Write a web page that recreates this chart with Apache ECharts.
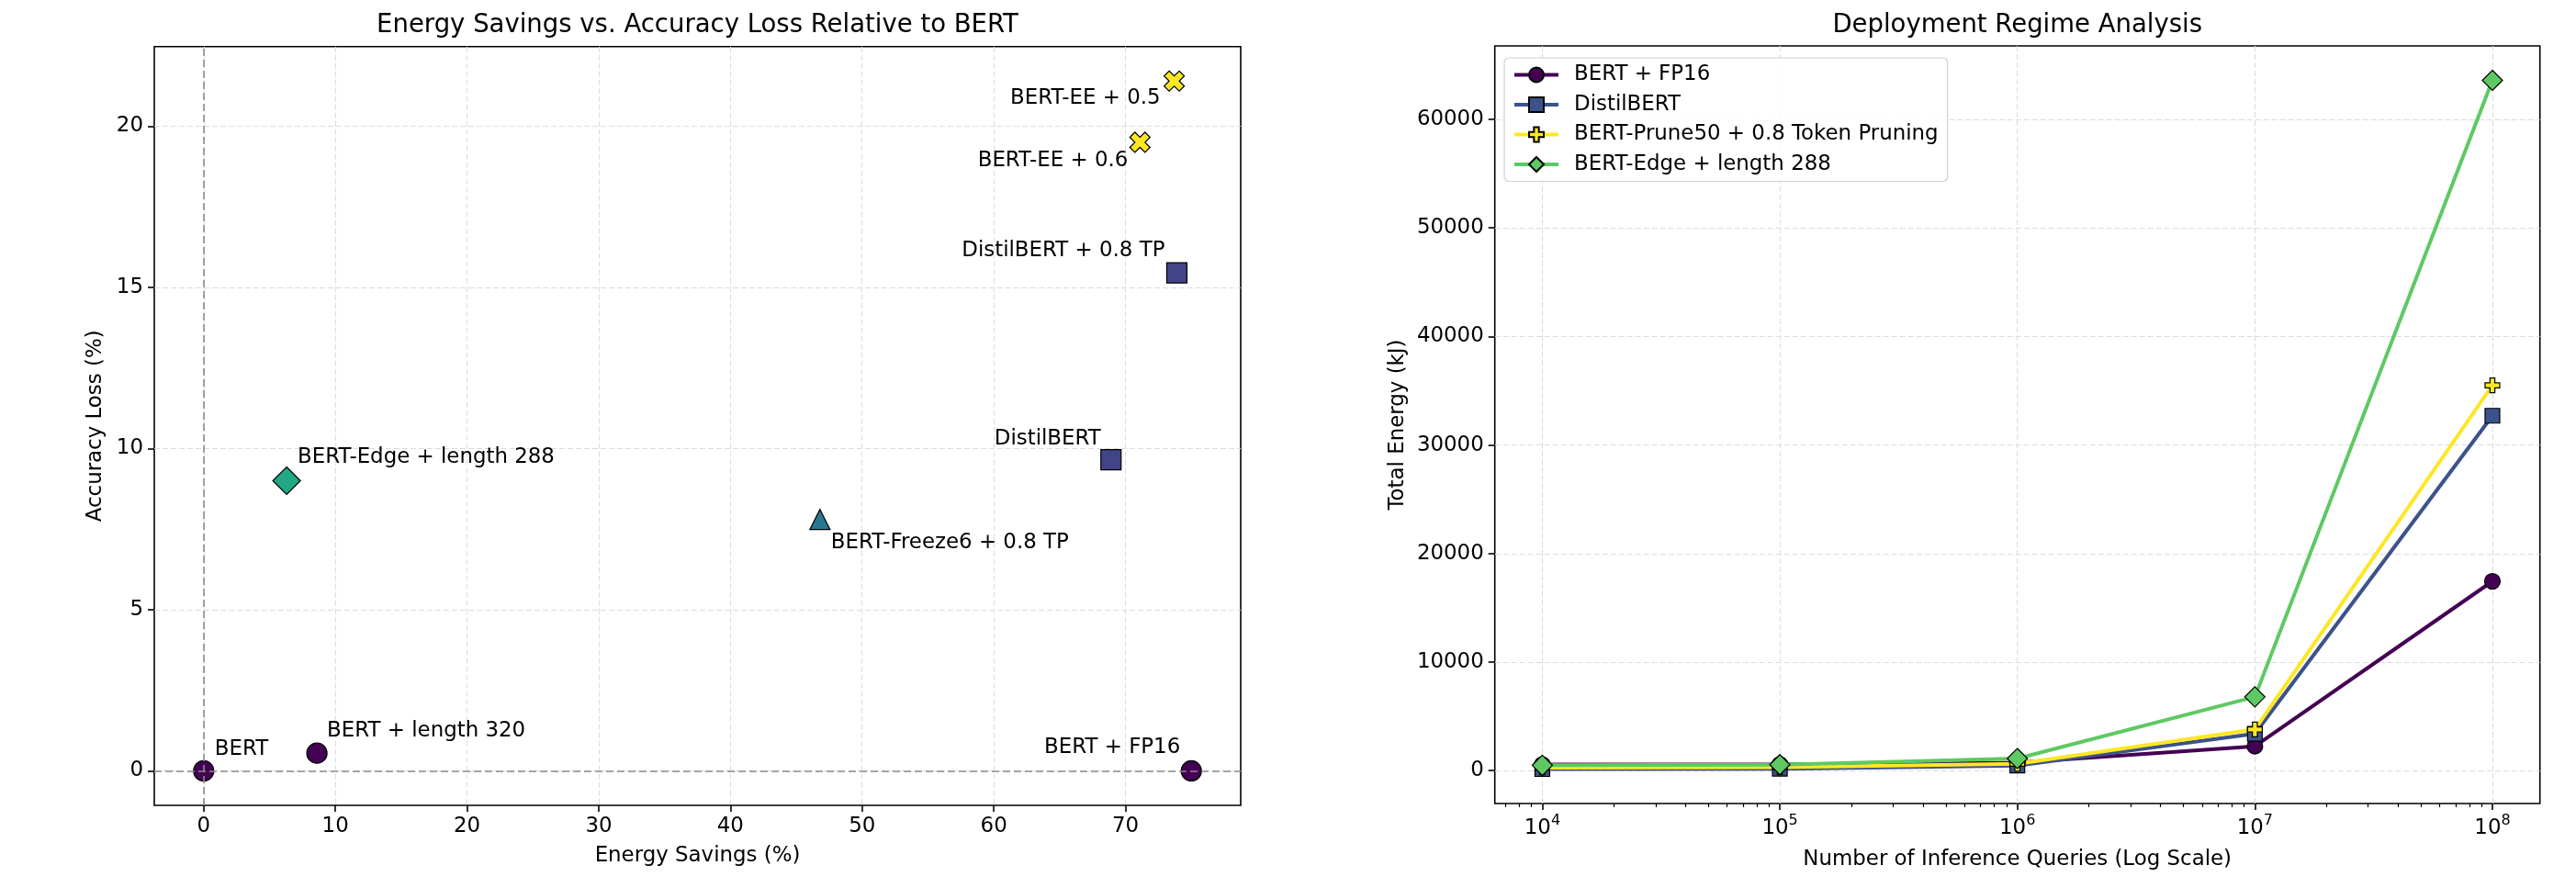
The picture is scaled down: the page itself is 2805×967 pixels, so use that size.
<!DOCTYPE html>
<html><head><meta charset="utf-8">
<script src="https://cdn.jsdelivr.net/npm/echarts@6/dist/echarts.min.js"></script>
<style>html,body{margin:0;padding:0;background:#fff}#c{width:2805px;height:967px}</style>
</head><body><div id="c"></div>
<script>
// ---------- Left panel data ----------
const methods = ['BERT', 'BERT + length 320', 'BERT + FP16', 'BERT-Edge + length 288',
  'BERT-Freeze6 + 0.8 TP', 'DistilBERT', 'DistilBERT + 0.8 TP', 'BERT-EE + 0.6', 'BERT-EE + 0.5'];
const energySavings = [0, 8.6, 75.0, 6.3, 46.8, 68.9, 73.9, 71.1, 73.7];
const accuracyLoss = [0, 0.55, 0, 9.0, 7.8, 9.65, 15.45, 19.5, 21.4];
const methodFamily = ['base', 'base', 'base', 'edge', 'freeze', 'distil', 'distil', 'ee', 'ee'];
const savingsTicks = [0, 10, 20, 30, 40, 50, 60, 70];
const lossTicks = [0, 5, 10, 15, 20];

// ---------- Right panel data ----------
const queryCounts = [1e4, 1e5, 1e6, 1e7, 1e8];
const queryExponents = [4, 5, 6, 7, 8];
const regimeNames = ['BERT + FP16', 'DistilBERT', 'BERT-Prune50 + 0.8 Token Pruning', 'BERT-Edge + length 288'];
const energyFP16 = [565, 580, 730, 2250, 17450];
const energyDistil = [147, 177, 470, 3400, 32700];
const energyPrune = [284, 315, 632, 3800, 35500];
const energyEdge = [496, 553, 1120, 6800, 63600];
const energyTicks = [0, 10000, 20000, 30000, 40000, 50000, 60000];

// ---------- styling ----------
const FONT = 'DejaVu Sans';
const FS = 22.9;
const X_PATH = 'path://M1,0L2,1L3,0L4,1L3,2L4,3L3,4L2,3L1,4L0,3L1,2L0,1Z';
const PLUS_PATH = 'path://M2,0L4,0L4,2L6,2L6,4L4,4L4,6L2,6L2,4L0,4L0,2L2,2Z';
const familyStyle = {
  base:   {symbol: 'circle',   size: 22, color: '#440154'},
  edge:   {symbol: 'diamond',  size: 30, color: '#22a884'},
  freeze: {symbol: 'triangle', size: 22, color: '#2a788e'},
  distil: {symbol: 'rect',     size: 22, color: '#414487'},
  ee:     {symbol: X_PATH,     size: 22, color: '#fde725'}
};
// label anchor: [align, dx, dy] in px relative to marker centre
const labelAnchor = {
  'BERT': ['left', 12, -23],
  'BERT + length 320': ['left', 11, -24],
  'BERT + FP16': ['right', -12, -25],
  'BERT-Edge + length 288': ['left', 12, -25],
  'BERT-Freeze6 + 0.8 TP': ['left', 12, 25],
  'DistilBERT': ['right', -11, -23],
  'DistilBERT + 0.8 TP': ['right', -13, -24],
  'BERT-EE + 0.6': ['right', -13, 20],
  'BERT-EE + 0.5': ['right', -15, 19]
};

function pad(min, max, frac) { const r = max - min; return [min - frac * r, max + frac * r]; }
const sxR = pad(Math.min(...energySavings), Math.max(...energySavings), 0.05);
const syR = pad(Math.min(...accuracyLoss), Math.max(...accuracyLoss), 0.05);
const allE = [].concat(energyFP16, energyDistil, energyPrune, energyEdge);
const eyR = pad(Math.min(...allE), Math.max(...allE), 0.05);
const lx = [Math.log10(queryCounts[0]), Math.log10(queryCounts[queryCounts.length - 1])];
const lxR = pad(lx[0], lx[1], 0.05);
const qMin = Math.pow(10, lxR[0]), qMax = Math.pow(10, lxR[1]);
const minorTicks = [];
for (let e = 3; e <= 8; e++) for (let m = 2; m <= 9; m++) {
  const v = m * Math.pow(10, e);
  if (v > qMin && v < qMax) minorTicks.push(v);
}

const tickStyle = {lineStyle: {color: '#000', width: 1.6}};
const gridLine = {show: true, lineStyle: {color: '#dcdcdc', width: 1, type: [6, 3]}};
const lbl = {color: '#000', fontFamily: FONT, fontSize: FS};

const scatterData = methods.map((m, i) => {
  const st = familyStyle[methodFamily[i]];
  const a = labelAnchor[m];
  return {
    name: m,
    value: [energySavings[i], accuracyLoss[i]],
    symbol: st.symbol, symbolSize: st.size,
    itemStyle: {color: st.color, borderColor: '#000', borderWidth: 1.2, opacity: 1},
    label: {show: true, position: 'inside', align: a[0], verticalAlign: 'middle', offset: [a[1], a[2]],
      formatter: m, color: '#000', fontFamily: FONT, fontSize: FS, textBorderWidth: 0}
  };
});

function lineSeries(name, values, color, symbol, size) {
  return {
    name: name, type: 'line', xAxisIndex: 1, yAxisIndex: 1,
    data: queryCounts.map((q, i) => [q, values[i]]),
    symbol: symbol, symbolSize: size, showSymbol: true,
    lineStyle: {color: color, width: 4},
    itemStyle: {color: color, borderColor: '#000', borderWidth: 1.2},
    emphasis: {disabled: true}
  };
}

const option = {
  animation: false,
  backgroundColor: '#fff',
  title: [
    {text: 'Energy Savings vs. Accuracy Loss Relative to BERT', left: 759.5, top: 14, textAlign: 'center', padding: 0,
      textStyle: {fontFamily: FONT, fontSize: 27.5, fontWeight: 'normal', color: '#000'}},
    {text: 'Deployment Regime Analysis', left: 2196.7, top: 14, textAlign: 'center', padding: 0,
      textStyle: {fontFamily: FONT, fontSize: 27.5, fontWeight: 'normal', color: '#000'}}
  ],
  grid: [
    {left: 168, top: 50.7, width: 1183, height: 826.3, show: true, borderColor: '#000', borderWidth: 1.6, backgroundColor: 'transparent'},
    {left: 1627.7, top: 50, width: 1138, height: 825, show: true, borderColor: '#000', borderWidth: 1.6, backgroundColor: 'transparent'}
  ],
  legend: {
    data: regimeNames, orient: 'vertical', left: 1638, top: 63,
    itemWidth: 48, itemHeight: 20, itemGap: 7.5, padding: [6, 10, 6, 9],
    lineStyle: {width: 4},
    borderColor: '#d0d0d0', borderWidth: 1.2, borderRadius: 5, backgroundColor: 'rgba(255,255,255,0.85)',
    textStyle: {fontFamily: FONT, fontSize: FS, color: '#000', lineHeight: 25, padding: [0, 0, 0, 12]}
  },
  xAxis: [
    {type: 'value', gridIndex: 0, min: sxR[0], max: sxR[1],
      name: 'Energy Savings (%)', nameLocation: 'middle', nameGap: 44, nameTextStyle: lbl,
      axisLine: {show: false, onZero: false},
      axisTick: Object.assign({show: true, length: 7, customValues: savingsTicks}, tickStyle),
      axisLabel: Object.assign({customValues: savingsTicks, margin: 12}, lbl),
      splitLine: gridLine},
    {type: 'log', logBase: 10, gridIndex: 1, min: qMin, max: qMax, position: 'bottom',
      name: 'Number of Inference Queries (Log Scale)', nameLocation: 'middle', nameGap: 50, nameTextStyle: lbl,
      axisLine: {show: false, onZero: false},
      axisTick: Object.assign({show: true, length: 7, customValues: queryCounts}, tickStyle),
      axisLabel: {customValues: queryCounts, margin: 11,
        formatter: v => { const i = queryCounts.findIndex(q => Math.abs(q - v) / q < 1e-6); return '{b|10}{s|' + queryExponents[i] + '}'; },
        rich: {b: {fontFamily: FONT, fontSize: FS, color: '#000', lineHeight: 28, verticalAlign: 'bottom'},
               s: {fontFamily: FONT, fontSize: 16, color: '#000', lineHeight: 17, verticalAlign: 'top'}}},
      splitLine: gridLine},
    {type: 'log', logBase: 10, gridIndex: 1, min: qMin, max: qMax, position: 'bottom',
      axisLine: {show: false, onZero: false},
      axisTick: Object.assign({show: true, length: 4, customValues: minorTicks}, {lineStyle: {color: '#000', width: 1.2}}),
      axisLabel: {show: false}, splitLine: {show: false}}
  ],
  yAxis: [
    {type: 'value', gridIndex: 0, min: syR[0], max: syR[1],
      name: 'Accuracy Loss (%)', nameLocation: 'middle', nameGap: 52, nameRotate: 90, nameTextStyle: lbl,
      axisLine: {show: false, onZero: false},
      axisTick: Object.assign({show: true, length: 7, customValues: lossTicks}, tickStyle),
      axisLabel: Object.assign({customValues: lossTicks, margin: 12}, lbl),
      splitLine: gridLine},
    {type: 'value', gridIndex: 1, min: eyR[0], max: eyR[1],
      name: 'Total Energy (kJ)', nameLocation: 'middle', nameGap: 94, nameRotate: 90, nameTextStyle: lbl,
      axisLine: {show: false, onZero: false},
      axisTick: Object.assign({show: true, length: 7, customValues: energyTicks}, tickStyle),
      axisLabel: Object.assign({customValues: energyTicks, margin: 12, formatter: v => String(v)}, lbl),
      splitLine: gridLine}
  ],
  series: [
    {type: 'scatter', xAxisIndex: 0, yAxisIndex: 0, data: scatterData, emphasis: {disabled: true}, z: 3,
      markLine: {silent: true, symbol: 'none', animation: false, label: {show: false},
        lineStyle: {color: '#8a8a8a', width: 1.6, type: [8, 4]},
        data: [{xAxis: 0}, {yAxis: 0}]}},
    lineSeries(regimeNames[0], energyFP16, '#440154', 'circle', 17),
    lineSeries(regimeNames[1], energyDistil, '#3b528b', 'rect', 16),
    lineSeries(regimeNames[2], energyPrune, '#fde725', PLUS_PATH, 16),
    lineSeries(regimeNames[3], energyEdge, '#5ec962', 'diamond', 22)
  ]
};
const chart = echarts.init(document.getElementById('c'), null, {renderer: 'canvas'});
chart.setOption(option);
</script></body></html>
